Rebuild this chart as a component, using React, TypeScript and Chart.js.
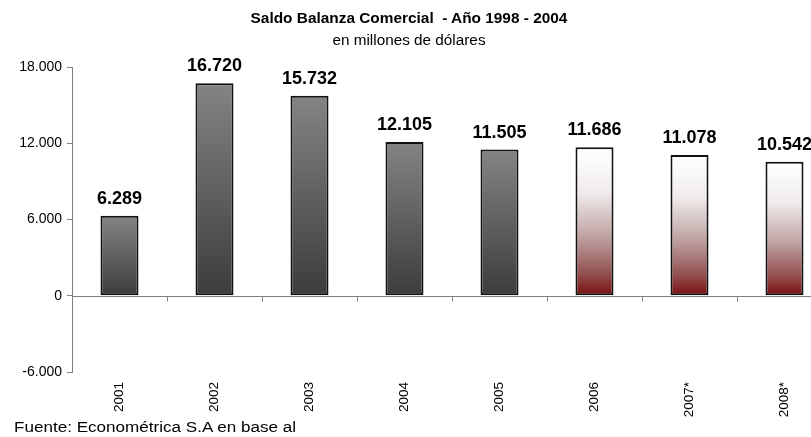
import React, { useEffect, useRef } from "react";
import { Chart, registerables } from "chart.js";

Chart.register(...registerables);

const categories = ["2001", "2002", "2003", "2004", "2005", "2006", "2007*", "2008*"];
const values = [6289, 16720, 15732, 12105, 11505, 11686, 11078, 10542];
const projected = [false, false, false, false, false, true, true, true];
const yTicks = [-6000, 0, 6000, 12000, 18000];

const titleText = "Saldo Balanza Comercial  - Año 1998 - 2004";
const subtitleText = "en millones de dólares";
const footerText = "Fuente: Econométrica S.A en base al";

const FONT = "'Liberation Sans', Arial, sans-serif";

function fmt(v: number): string {
  const neg = v < 0;
  const s = Math.abs(Math.round(v)).toString();
  const out = s.replace(/\B(?=(\d{3})+(?!\d))/g, ".");
  return (neg ? "-" : "") + out;
}

export default function App() {
  const ref = useRef<HTMLCanvasElement | null>(null);

  useEffect(() => {
    if (!ref.current) return;

    const zeroLine = {
      id: "zeroLine",
      afterDatasetsDraw(chart: any) {
        const { ctx, chartArea, scales } = chart;
        const x = scales.x;
        const y = scales.y;
        const y0 = Math.round(y.getPixelForValue(0)) + 0.5;
        ctx.save();
        ctx.strokeStyle = "#808080";
        ctx.lineWidth = 1;
        ctx.beginPath();
        ctx.moveTo(chartArea.left, y0);
        ctx.lineTo(chartArea.right, y0);
        const n = categories.length;
        for (let i = 0; i <= n; i++) {
          let bx: number;
          if (i === 0) bx = chartArea.left;
          else if (i === n) bx = chartArea.right;
          else bx = (x.getPixelForValue(i - 1) + x.getPixelForValue(i)) / 2;
          bx = Math.round(bx) + 0.5;
          ctx.moveTo(bx, y0);
          ctx.lineTo(bx, y0 + 5);
        }
        ctx.stroke();

        // value labels
        const meta = chart.getDatasetMeta(0);
        ctx.fillStyle = "#000";
        ctx.font = `bold 18px ${FONT}`;
        ctx.textAlign = "center";
        ctx.textBaseline = "bottom";
        meta.data.forEach((bar: any, i: number) => {
          ctx.fillText(fmt(values[i]), bar.x, bar.y - 8);
        });
        ctx.restore();
      },
    };

    const chart = new Chart(ref.current, {
      type: "bar",
      data: {
        labels: categories,
        datasets: [
          {
            data: values,
            backgroundColor: (c: any) => {
              const chart = c.chart;
              const area = chart.chartArea;
              if (!area || c.dataIndex === undefined) return "#555";
              const y = chart.scales.y;
              const top = y.getPixelForValue(values[c.dataIndex]);
              const bot = y.getPixelForValue(0);
              const g = chart.ctx.createLinearGradient(0, top, 0, bot);
              if (projected[c.dataIndex]) {
                g.addColorStop(0, "#ffffff");
                g.addColorStop(0.3, "#f1ecec");
                g.addColorStop(0.6, "#bfa3a3");
                g.addColorStop(0.85, "#935050");
                g.addColorStop(1, "#7a0e0e");
              } else {
                g.addColorStop(0, "#848484");
                g.addColorStop(1, "#3c3c3c");
              }
              return g;
            },
            borderColor: "#111111",
            borderWidth: 2,
            borderSkipped: false,
            barPercentage: 0.4,
            categoryPercentage: 1,
          },
        ],
      },
      options: {
        animation: false,
        responsive: true,
        maintainAspectRatio: false,
        layout: { padding: { top: 67, left: 12, right: 2, bottom: 0 } },
        plugins: {
          legend: { display: false },
          title: { display: false },
          tooltip: { enabled: false },
        },
        scales: {
          x: {
            offset: true,
            grid: { display: false, drawTicks: false },
            border: { display: false },
            ticks: {
              minRotation: 90,
              maxRotation: 90,
              padding: 10,
              color: "#000",
              font: { family: FONT, size: 13.5 },
            },
            afterFit: (s: any) => {
              s.height = 65;
            },
          },
          y: {
            min: -6000,
            max: 18000,
            afterBuildTicks: (s: any) => {
              s.ticks = yTicks.map((v) => ({ value: v }));
            },
            grid: {
              display: true,
              drawOnChartArea: false,
              drawTicks: true,
              tickLength: 5,
              color: "#808080",
            },
            border: { display: true, color: "#808080", width: 1 },
            ticks: {
              padding: 5,
              color: "#000",
              font: { family: FONT, size: 14 },
              callback: (v: any) => fmt(Number(v)),
            },
            afterFit: (s: any) => {
              s.width = 60;
            },
          },
        },
      },
      plugins: [zeroLine],
    });

    return () => chart.destroy();
  }, []);

  return (
    <div
      style={{
        position: "fixed",
        left: 0,
        top: 0,
        width: 811,
        height: 437,
        overflow: "hidden",
        background: "#fff",
        fontFamily: FONT,
      }}
    >
      <div style={{ position: "absolute", left: 0, top: 0, width: 834, height: 437 }}>
        <canvas ref={ref} />
      </div>
      <div
        style={{
          position: "absolute",
          left: 0,
          width: 818,
          top: 9,
          textAlign: "center",
          fontWeight: "bold",
          fontSize: 15.4,
          lineHeight: "18px",
          whiteSpace: "pre",
          color: "#000",
        }}
      >
        {titleText}
      </div>
      <div
        style={{
          position: "absolute",
          left: 0,
          width: 818,
          top: 31,
          textAlign: "center",
          fontSize: 15.3,
          lineHeight: "18px",
          color: "#000",
        }}
      >
        {subtitleText}
      </div>
      <div
        style={{
          position: "absolute",
          left: 14,
          top: 419,
          fontSize: 14,
          lineHeight: "16px",
          whiteSpace: "pre",
          color: "#000",
          transform: "scaleX(1.22)",
          transformOrigin: "left center",
        }}
      >
        {footerText}
      </div>
    </div>
  );
}
